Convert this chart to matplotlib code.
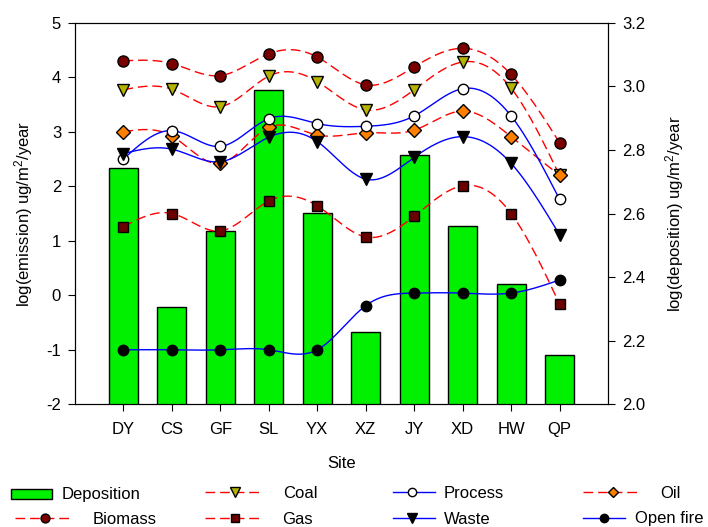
import numpy as np
import matplotlib
matplotlib.use("Agg")
import matplotlib.pyplot as plt
from matplotlib.patches import Rectangle

plt.rcParams['font.family'] = ['Liberation Sans', 'DejaVu Sans']
plt.rcParams['axes.unicode_minus'] = False
plt.rcParams['mathtext.fontset'] = 'custom'
plt.rcParams['mathtext.rm'] = 'Liberation Sans'
plt.rcParams['mathtext.it'] = 'Liberation Sans:italic'

sites = ["DY", "CS", "GF", "SL", "YX", "XZ", "JY", "XD", "HW", "QP"]
deposition = [2.743, 2.307, 2.546, 2.989, 2.601, 2.227, 2.784, 2.562, 2.378, 2.155]
biomass = [4.30, 4.25, 4.03, 4.43, 4.37, 3.86, 4.19, 4.53, 4.05, 2.80]
coal = [3.77, 3.78, 3.46, 4.02, 3.92, 3.40, 3.77, 4.28, 3.80, 2.20]
process = [2.50, 3.02, 2.73, 3.24, 3.15, 3.10, 3.29, 3.79, 3.29, 1.76]
oil = [3.00, 2.92, 2.42, 3.08, 2.94, 2.98, 3.03, 3.38, 2.91, 2.20]
waste = [2.60, 2.68, 2.45, 2.90, 2.82, 2.13, 2.53, 2.91, 2.42, 1.11]
gas = [1.26, 1.50, 1.18, 1.73, 1.64, 1.07, 1.45, 2.01, 1.50, -0.16]
open_fire = [-1.00, -1.00, -1.00, -1.00, -1.00, -0.19, 0.04, 0.04, 0.04, 0.28]


def natural_spline(x, y, xs):
    x = np.asarray(x, float)
    y = np.asarray(y, float)
    n = len(x)
    h = np.diff(x)
    A = np.zeros((n, n))
    b = np.zeros(n)
    A[0, 0] = 1
    A[-1, -1] = 1
    for i in range(1, n - 1):
        A[i, i - 1] = h[i - 1]
        A[i, i] = 2 * (h[i - 1] + h[i])
        A[i, i + 1] = h[i]
        b[i] = 3 * ((y[i + 1] - y[i]) / h[i] - (y[i] - y[i - 1]) / h[i - 1])
    c = np.linalg.solve(A, b)
    out = np.empty_like(xs)
    for k, xv in enumerate(xs):
        i = min(max(np.searchsorted(x, xv) - 1, 0), n - 2)
        dx = xv - x[i]
        bi = (y[i + 1] - y[i]) / h[i] - h[i] * (2 * c[i] + c[i + 1]) / 3
        di = (c[i + 1] - c[i]) / (3 * h[i])
        out[k] = y[i] + bi * dx + c[i] * dx ** 2 + di * dx ** 3
    return out


W, H = 708, 527
fig = plt.figure(figsize=(W / 100, H / 100), dpi=100)
ax1 = fig.add_axes([75 / W, 1 - 404.3 / H, 533 / W, 381.6 / H])
ax2 = ax1.twinx()

x = np.arange(1, len(sites) + 1)
xs = np.linspace(1, len(sites), 400)

BAR_C = '#00f000'
ax2.bar(x, deposition, width=0.6, color=BAR_C, edgecolor='black', linewidth=1.0)
ax2.set_ylim(2.0, 3.2)
ax2.set_yticks([2.0, 2.2, 2.4, 2.6, 2.8, 3.0, 3.2])
ax2.set_yticklabels(["2.0", "2.2", "2.4", "2.6", "2.8", "3.0", "3.2"])

ax1.set_zorder(ax2.get_zorder() + 1)
ax1.patch.set_visible(False)

red_dash = dict(color='red', linestyle=(0, (7, 3.5)), linewidth=1.0)
blue = dict(color='blue', linestyle='-', linewidth=1.0)

styles = {
    'Coal': (red_dash, dict(marker='v', mfc='#b4b400', ms=8.5)),
    'Biomass': (red_dash, dict(marker='o', mfc='#7a0000', ms=8)),
    'Oil': (red_dash, dict(marker='D', mfc='#ff8000', ms=7)),
    'Gas': (red_dash, dict(marker='s', mfc='#6a0000', ms=7.5)),
    'Process': (blue, dict(marker='o', mfc='white', ms=7.5)),
    'Waste': (blue, dict(marker='v', mfc='black', ms=8.5)),
    'Open fire': (blue, dict(marker='o', mfc='black', ms=7.5)),
}
order = [('Coal', coal), ('Biomass', biomass), ('Oil', oil), ('Gas', gas),
         ('Process', process), ('Waste', waste), ('Open fire', open_fire)]
for name, vals in order:
    ls, mk = styles[name]
    ax1.plot(xs, natural_spline(x, vals, xs), **ls, zorder=2)
    ax1.plot(x, vals, linestyle='none', mec='black', mew=1.0, zorder=3, **mk)

ax1.set_xlim(0, 11)
ax1.set_ylim(-2, 5)
ax1.set_xticks(x)
ax1.set_xticklabels(sites)
ax1.set_yticks(range(-2, 6))

ax1.tick_params(axis='x', labelsize=12, direction='out', length=5, pad=8)
ax1.tick_params(axis='y', labelsize=12, direction='out', length=5, pad=5)
ax2.tick_params(axis='y', labelsize=12, direction='out', length=5, pad=5)

ax1.set_xlabel("Site", fontsize=12)
ax1.xaxis.set_label_coords(0.5, (404.3 - 463) / 381.6)
ax1.xaxis.label.set_verticalalignment('center')
ax1.set_ylabel("log(emission) ug/m$^2$/year", fontsize=12)
ax1.yaxis.label.set_verticalalignment('center')
ax1.yaxis.set_label_coords((24 - 75) / 533, 0.5)
ax2.set_ylabel("log(deposition) ug/m$^2$/year", fontsize=12)
ax2.yaxis.label.set_verticalalignment('center')
ax2.yaxis.set_label_coords((675 - 75) / 533, 0.5)

# legend drawn in pixel coordinates on an overlay axes
lg = fig.add_axes([0, 0, 1, 1])
lg.set_xlim(0, W)
lg.set_ylim(H, 0)
lg.axis('off')

lg.add_patch(Rectangle((11, 489), 41, 10, facecolor=BAR_C, edgecolor='black', lw=1.0))
lg.text(62, 494, 'Deposition', fontsize=12, va='center', ha='left')

entries = [
    # name, x0, x1, marker x, text x, y
    ('Coal', 205, 260, 235, 283, 492),
    ('Biomass', 15, 70, 45, 93, 518),
    ('Gas', 205, 260, 235, 282, 518),
    ('Process', 393, 435, 412, 444, 492),
    ('Waste', 393, 435, 412, 444, 518),
    ('Oil', 583, 638, 613, 660, 492),
    ('Open fire', 583, 625, 604, 635, 518),
]
for name, x0, x1, xm, xt, y in entries:
    ls, mk = styles[name]
    lg.plot([x0, x1], [y, y], **ls)
    d = dict(mk)
    d['ms'] = d['ms'] * 0.8
    lg.plot([xm], [y], linestyle='none', mec='black', mew=1.0, **d)
    lg.text(xt, y + 1, name, fontsize=12, va='center', ha='left')

fig.savefig("out.png", dpi=100)
